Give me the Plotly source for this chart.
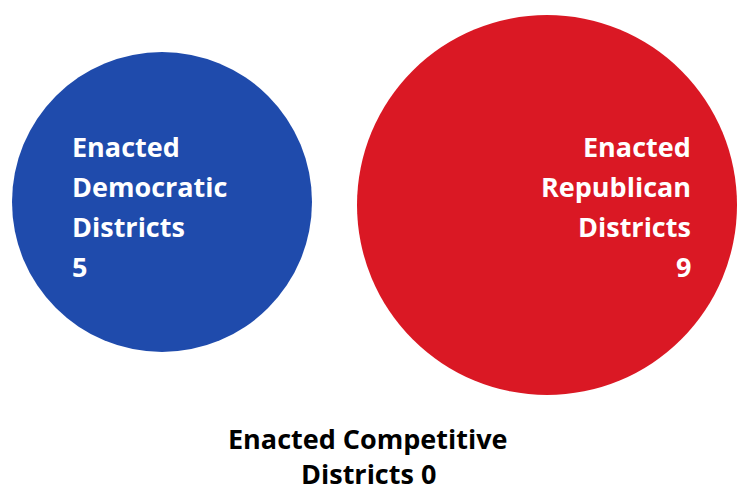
import plotly.graph_objects as go

# Data
categories = ["Democratic", "Republican", "Competitive"]
values = [5, 9, 0]
dem_lines = ["Enacted", "Democratic", "Districts", str(values[0])]
rep_lines = ["Enacted", "Republican", "Districts", str(values[1])]
comp_lines = ["Enacted Competitive", "Districts " + str(values[2])]

# Layout / style (pixel coordinate system)
W, H = 742, 491
circle_x = [162, 547]
circle_y = [202, 205]
circle_d = [300, 380]
colors = ["#1f4bac", "#da1824"]
FONT = "Open Sans"
FS = 27
line_y = [146, 186, 226, 266]
comp_y = [438, 473]

fig = go.Figure()
fig.add_trace(go.Scatter(
    x=circle_x, y=circle_y, mode="markers",
    marker=dict(size=circle_d, color=colors, line=dict(width=0), opacity=1),
    hoverinfo="skip", showlegend=False,
))

annotations = []
for t, y in zip(dem_lines, line_y):
    annotations.append(dict(x=71, y=y, text="<b>" + t + "</b>", xanchor="left", yanchor="middle",
                            showarrow=False, borderpad=0, font=dict(family=FONT, size=FS, color="white")))
for t, y in zip(rep_lines, line_y):
    annotations.append(dict(x=692, y=y, text="<b>" + t + "</b>", xanchor="right", yanchor="middle",
                            showarrow=False, borderpad=0, font=dict(family=FONT, size=FS, color="white")))
for t, y in zip(comp_lines, comp_y):
    annotations.append(dict(x=368, y=y, text="<b>" + t + "</b>", xanchor="center", yanchor="middle",
                            showarrow=False, borderpad=0, font=dict(family=FONT, size=FS, color="black")))

fig.update_layout(
    width=W, height=H,
    margin=dict(l=0, r=0, t=0, b=0),
    paper_bgcolor="white", plot_bgcolor="white",
    xaxis=dict(range=[0, W], visible=False, fixedrange=True),
    yaxis=dict(range=[H, 0], visible=False, fixedrange=True),
    annotations=annotations,
)
fig.write_html("out.html")
